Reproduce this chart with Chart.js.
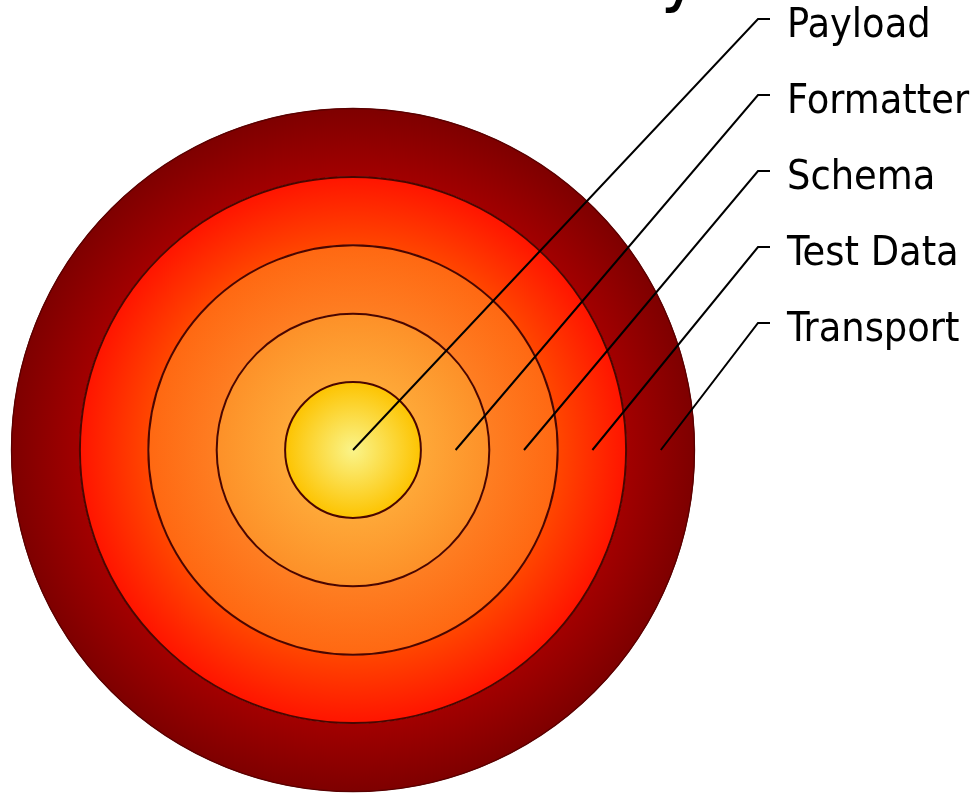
<!DOCTYPE html>
<html>
<head>
<meta charset="utf-8">
<style>
html,body{margin:0;padding:0;background:#ffffff;overflow:hidden}
#wrap{width:971px;height:794px;position:relative}
</style>
<script src="https://cdn.jsdelivr.net/npm/chart.js@4.4.0/dist/chart.umd.min.js"></script>
</head>
<body>
<div id="wrap"><canvas id="c" width="971" height="794"></canvas></div>
<script>
// Layers, outermost first (Chart.js draws dataset 0 as the outer ring)
const layers = ['Transport', 'Test Data', 'Schema', 'Formatter', 'Payload'];
const layerValues = [1, 1, 1, 1, 1];
const innerColors = ['#a20000', '#ff4600', '#fe7e22', '#fea838', '#faf48a'];
const outerColors = ['#7e0000', '#ff1400', '#ff6812', '#fd9028', '#fdc300'];
const ringBorderColors = ['#5a0000', '#4a0600', '#4a0600', '#4a0600', '#4a0600'];
const ringBorderWidths = [1.3, 2, 2, 2, 2];
const titleText = 'Test Data Library';

const FONT = "'DejaVu Sans Condensed', 'DejaVu Sans', sans-serif";

const ringFill = (ctx) => {
  const chart = ctx.chart;
  const i = ctx.datasetIndex;
  const ctrl = chart.getDatasetMeta(i).controller;
  const area = chart.chartArea;
  if (!area || !ctrl || !isFinite(ctrl.outerRadius)) return outerColors[i];
  const cx = (area.left + area.right) / 2;
  const cy = (area.top + area.bottom) / 2;
  const g = chart.ctx.createRadialGradient(cx, cy, Math.max(ctrl.innerRadius, 0), cx, cy, ctrl.outerRadius);
  g.addColorStop(0, innerColors[i]);
  g.addColorStop(1, outerColors[i]);
  return g;
};

const ringBorderPlugin = {
  id: 'ringBorders',
  afterDatasetsDraw(chart) {
    const c = chart.ctx;
    const n = chart.data.datasets.length;
    c.save();
    for (let i = n - 1; i >= 0; i--) {
      const arc = chart.getDatasetMeta(i).data[0];
      const p = arc.getProps(['x', 'y', 'outerRadius'], true);
      c.beginPath();
      c.arc(p.x, p.y, Math.max(p.outerRadius - 0.5, 0), 0, Math.PI * 2);
      c.strokeStyle = ringBorderColors[i];
      c.lineWidth = ringBorderWidths[i];
      c.stroke();
    }
    c.restore();
  }
};

const labelPlugin = {
  id: 'layerLabels',
  afterDatasetsDraw(chart) {
    const c = chart.ctx;
    const n = chart.data.datasets.length;
    c.save();
    c.font = '41px ' + FONT;
    c.textAlign = 'left';
    c.textBaseline = 'alphabetic';
    for (let i = 0; i < n; i++) {
      const arc = chart.getDatasetMeta(i).data[0];
      const p = arc.getProps(['x', 'y', 'innerRadius', 'outerRadius'], true);
      const r = p.innerRadius < 1 ? 0 : (p.innerRadius + p.outerRadius) / 2;
      const ax = p.x + r, ay = p.y;
      const row = n - 1 - i;
      const ty = 19 + row * 76;
      const tx0 = 758, tx1 = 770;
      c.beginPath();
      c.strokeStyle = '#000000';
      c.lineWidth = 2;
      c.moveTo(ax, ay);
      c.lineTo(tx0, ty);
      c.lineTo(tx1, ty);
      c.stroke();
      c.fillStyle = '#000000';
      c.fillText(chart.data.datasets[i].label, 787, ty + 18);
    }
    // title (sits above the visible page; only the descender of its last letter shows)
    c.font = '74px ' + FONT;
    c.textAlign = 'right';
    c.fillText(titleText, 700, -3);
    c.restore();
  }
};

new Chart(document.getElementById('c'), {
  type: 'pie',
  data: {
    labels: ['layer'],
    datasets: layers.map((name, i) => ({
      label: name,
      data: [layerValues[i]],
      backgroundColor: ringFill,
      borderWidth: 0
    }))
  },
  options: {
    responsive: false,
    animation: false,
    events: [],
    layout: { padding: { left: 11, right: 276, top: 108, bottom: 2 } },
    plugins: {
      legend: { display: false },
      tooltip: { enabled: false },
      title: { display: false }
    }
  },
  plugins: [ringBorderPlugin, labelPlugin]
});
</script>
</body>
</html>
